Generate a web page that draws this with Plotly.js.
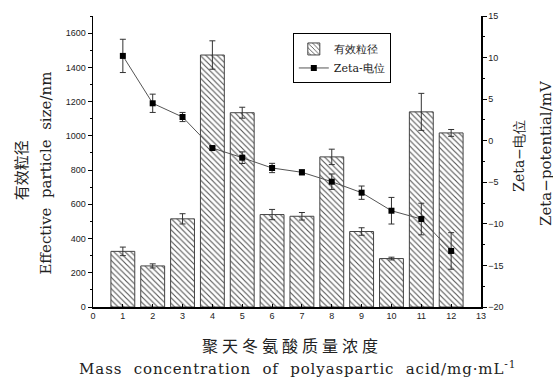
<!DOCTYPE html>
<html>
<head>
<meta charset="utf-8">
<script src="https://cdn.plot.ly/plotly-3.0.1.min.js"></script>
<style>
html,body{margin:0;padding:0;background:#fff;}
g.annotation[data-index="0"] text{letter-spacing:4px;}
g.annotation[data-index="1"] text{letter-spacing:0.9px;}
</style>
</head>
<body>
<div id="chart" style="width:553px;height:381px;"></div>
<script>
var categories = [1, 2, 3, 4, 5, 6, 7, 8, 9, 10, 11, 12];
var sizeVals = [325, 240, 515, 1472, 1135, 540, 530, 877, 441, 283, 1140, 1017];
var sizeErr = [25, 12, 30, 83, 32, 30, 22, 45, 22, 8, 108, 20];
var zetaVals = [10.2, 4.5, 2.85, -0.88, -2.04, -3.28, -3.8, -4.93, -6.25, -8.42, -9.42, -13.26];
var zetaErr = [2.0, 1.1, 0.55, 0.15, 0.7, 0.56, 0.3, 0.93, 0.8, 1.6, 1.9, 2.2];
var seriesNames = ['有效粒径', 'Zeta-电位'];
var xTicks = [0,1,2,3,4,5,6,7,8,9,10,11,12,13];

var barTrace = {
  type: 'bar', x: categories, y: sizeVals, name: seriesNames[0], width: 0.8,
  marker: {color: '#ffffff', line: {color: '#444', width: 1},
    pattern: {shape: '\\', fgcolor: '#555', bgcolor: '#ffffff', size: 4, solidity: 0.28}},
  error_y: {type: 'data', array: sizeErr, visible: true, color: '#333', thickness: 1, width: 3},
  yaxis: 'y'
};
var lineTrace = {
  type: 'scatter', mode: 'lines+markers', x: categories, y: zetaVals, name: seriesNames[1],
  line: {color: '#555', width: 1}, marker: {symbol: 'square', size: 6, color: '#000'},
  error_y: {type: 'data', array: zetaErr, visible: true, color: '#333', thickness: 1, width: 3},
  yaxis: 'y2'
};

var layout = {
  width: 553, height: 381,
  margin: {l: 93, r: 72, t: 16, b: 74},
  paper_bgcolor: '#ffffff', plot_bgcolor: '#ffffff',
  font: {family: 'Liberation Sans', size: 9, color: '#222'},
  showlegend: true,
  legend: {x: 0.515, y: 0.94, xanchor: 'left', yanchor: 'top', bgcolor: '#fff',
    bordercolor: '#000', borderwidth: 1, font: {family: 'DejaVu Serif', size: 11, color: '#222'},
    tracegroupgap: 2},
  xaxis: {range: [0, 13], tickvals: xTicks, ticktext: xTicks.map(String), ticks: 'inside', ticklen: 3,
    tickcolor: '#000', showline: true, linecolor: '#000', linewidth: 1.5, showgrid: false, zeroline: false,
    tickfont: {size: 9}},
  yaxis: {range: [0, 1700], dtick: 200, tick0: 0, ticks: 'outside', ticklen: 4, tickcolor: '#000',
    showline: true, linecolor: '#000', linewidth: 1.5, showgrid: false, zeroline: false,
    minor: {dtick: 100, ticks: 'outside', ticklen: 2, tickcolor: '#000'}, tickfont: {size: 9}},
  yaxis2: {range: [-20, 15], dtick: 5, tick0: 0, overlaying: 'y', side: 'right', ticks: 'outside', ticklen: 4,
    tickcolor: '#000', showline: true, linecolor: '#000', linewidth: 1.5, showgrid: false, zeroline: false,
    minor: {dtick: 2.5, ticks: 'outside', ticklen: 2, tickcolor: '#000'}, tickfont: {size: 9}},
  annotations: [
    {xref: 'paper', yref: 'paper', x: 0.513, y: -0.13, xanchor: 'center', yanchor: 'middle', showarrow: false,
      text: '聚天冬氨酸质量浓度', font: {family: 'Noto Sans CJK SC', size: 16, color: '#222'}},
    {xref: 'paper', yref: 'paper', x: 0.528, y: -0.21, xanchor: 'center', yanchor: 'middle', showarrow: false,
      text: 'Mass\u00a0 concentration\u00a0 of\u00a0 polyaspartic\u00a0 acid/mg·mL<sup>-1</sup>',
      font: {family: 'DejaVu Serif', size: 15, color: '#222'}},
    {xref: 'paper', yref: 'paper', x: -0.188, y: 0.47, xanchor: 'center', yanchor: 'middle', showarrow: false, textangle: -90,
      text: '有效粒径', font: {family: 'Noto Sans CJK SC', size: 15, color: '#222'}},
    {xref: 'paper', yref: 'paper', x: -0.12, y: 0.46, xanchor: 'center', yanchor: 'middle', showarrow: false, textangle: -90,
      text: 'Effective\u00a0 particle\u00a0 size/nm', font: {family: 'DejaVu Serif', size: 15, color: '#222'}},
    {xref: 'paper', yref: 'paper', x: 1.098, y: 0.52, xanchor: 'center', yanchor: 'middle', showarrow: false, textangle: -90,
      text: 'Zeta−电位', font: {family: 'DejaVu Serif', size: 14, color: '#222'}},
    {xref: 'paper', yref: 'paper', x: 1.168, y: 0.53, xanchor: 'center', yanchor: 'middle', showarrow: false, textangle: -90,
      text: 'Zeta−potential/mV', font: {family: 'DejaVu Serif', size: 15, color: '#222'}}
  ]
};

Plotly.newPlot('chart', [barTrace, lineTrace], layout, {displayModeBar: false, staticPlot: true});
</script>
</body>
</html>
